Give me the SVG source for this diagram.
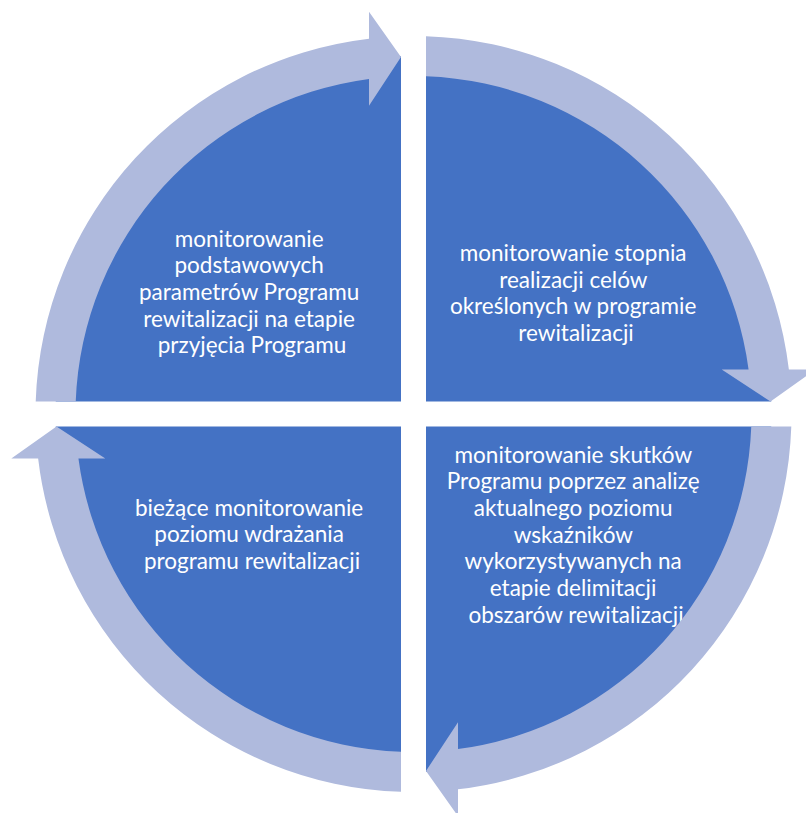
<svg xmlns="http://www.w3.org/2000/svg" width="806" height="813" viewBox="0 0 806 813">
  <style>
    .seg { fill: #4472C4; }
    .ring { fill: #AFBADD; }
    .lbl { font-family: Lato, "Liberation Sans", sans-serif; font-size: 22.5px; fill: #FFFFFF; text-anchor: middle; }
  </style>
  <defs>
    <path id="sector" d="M 401 401.5 L 401 56.22 A 358 358 0 0 0 55.72 401.5 Z"/>
    <path id="arrow" d="M 35.7 401.5 A 378 378 0 0 1 369 38.63 L 369 11.8 L 401 57 L 369 105.8 L 369 78.94 A 338 338 0 0 0 75.73 401.5 Z"/>
  </defs>
  <rect width="806" height="813" fill="#FFFFFF"/>
  <g id="node-top-left">
    <use href="#sector" class="seg"/>
    <text class="lbl">
      <tspan x="252" y="246.7">monitorowanie</tspan>
      <tspan x="252" y="273.4">podstawowych</tspan>
      <tspan x="252" y="300">parametrów Programu</tspan>
      <tspan x="252" y="326.7">rewitalizacji na etapie</tspan>
      <tspan x="252" y="353.4">przyjęcia Programu</tspan>
    </text>
  </g>
  <g id="node-top-right">
    <use href="#sector" class="seg" transform="rotate(90 413.5 414)"/>
    <text class="lbl">
      <tspan x="576" y="261">monitorowanie stopnia</tspan>
      <tspan x="576" y="287.7">realizacji celów</tspan>
      <tspan x="576" y="314.3">określonych w programie</tspan>
      <tspan x="576" y="341">rewitalizacji</tspan>
    </text>
  </g>
  <g id="node-bottom-right">
    <use href="#sector" class="seg" transform="rotate(180 413.5 414)"/>
    <text class="lbl">
      <tspan x="576" y="462.7">monitorowanie skutków</tspan>
      <tspan x="576" y="489.4">Programu poprzez analizę</tspan>
      <tspan x="576" y="516">aktualnego poziomu</tspan>
      <tspan x="576" y="542.7">wskaźników</tspan>
      <tspan x="576" y="569.4">wykorzystywanych na</tspan>
      <tspan x="576" y="596">etapie delimitacji</tspan>
      <tspan x="576" y="622.7">obszarów rewitalizacji</tspan>
    </text>
  </g>
  <g id="node-bottom-left">
    <use href="#sector" class="seg" transform="rotate(270 413.5 414)"/>
    <text class="lbl">
      <tspan x="252" y="515.5">bieżące monitorowanie</tspan>
      <tspan x="252" y="542.2">poziomu wdrażania</tspan>
      <tspan x="252" y="568.9">programu rewitalizacji</tspan>
    </text>
  </g>
  <g id="connectors">
    <use href="#arrow" class="ring"/>
    <use href="#arrow" class="ring" transform="rotate(90 413.5 414)"/>
    <use href="#arrow" class="ring" transform="rotate(180 413.5 414)"/>
    <use href="#arrow" class="ring" transform="rotate(270 413.5 414)"/>
  </g>
</svg>
